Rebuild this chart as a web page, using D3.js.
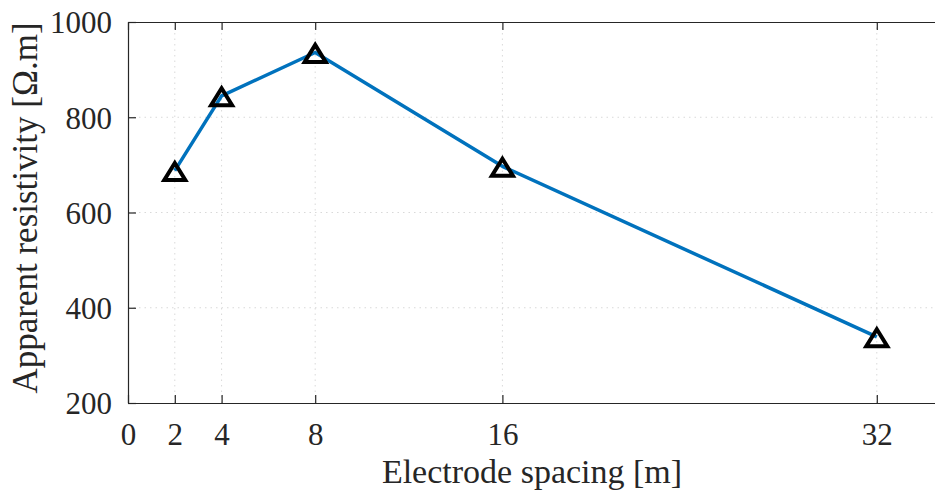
<!DOCTYPE html>
<html><head><meta charset="utf-8">
<script src="https://cdn.jsdelivr.net/npm/d3@7"></script>
<style>body{margin:0;background:#fff;}svg{display:block;}</style>
</head><body>
<svg id="c" width="935" height="493"></svg>
<script>
const spacing = [2, 4, 8, 16, 32];
const resistivity = [688, 845, 936, 697, 339];
const xTicks = [0, 2, 4, 8, 16, 32];
const yTicks = [200, 400, 600, 800, 1000];
const xLabel = "Electrode spacing [m]";
const yLabel = "Apparent resistivity [Ω.m]";

const svg = d3.select("#c");
const L = 128, T = 22, B = 403, R = 947;
const x = d3.scaleLinear().domain([0, 35]).range([L, R]);
const y = d3.scaleLinear().domain([200, 1000]).range([B, T]);
const font = "'Liberation Serif', 'Times New Roman', serif";
const axisCol = "#262626";

// grid
const g = svg.append("g");
g.selectAll("line.gx").data(xTicks.filter(d => d > 0)).join("line")
  .attr("x1", d => x(d)).attr("x2", d => x(d)).attr("y1", T).attr("y2", B)
  .attr("stroke", "#d9d9d9").attr("stroke-width", 1).attr("stroke-dasharray", "1.5,4");
g.selectAll("line.gy").data(yTicks.filter(d => d > 200 && d < 1000)).join("line")
  .attr("x1", L).attr("x2", R).attr("y1", d => y(d)).attr("y2", d => y(d))
  .attr("stroke", "#d9d9d9").attr("stroke-width", 1).attr("stroke-dasharray", "1.5,4");

// axes
const xAxisB = d3.axisBottom(x).tickValues(xTicks).tickSizeInner(-8).tickSizeOuter(0).tickPadding(20).tickFormat(d3.format("d"));
const xAxisT = d3.axisTop(x).tickValues(xTicks).tickSizeInner(-8).tickSizeOuter(0).tickFormat("");
const yAxisL = d3.axisLeft(y).tickValues(yTicks).tickSizeInner(-8).tickSizeOuter(0).tickPadding(16).tickFormat(d3.format("d"));

function style(sel) {
  sel.attr("font-family", null).attr("font-size", null);
  sel.select(".domain").attr("stroke", axisCol).attr("stroke-width", 1.2);
  sel.selectAll(".tick line").attr("stroke", axisCol).attr("stroke-width", 1.2);
  sel.selectAll(".tick text").attr("fill", axisCol).style("font-family", font).style("font-size", "31px");
}
svg.append("g").attr("transform", `translate(0,${B})`).call(xAxisB).call(style)
  .selectAll(".tick text").attr("dy", "0.71em");
svg.append("g").attr("transform", `translate(0,${T})`).call(xAxisT).call(style);
svg.append("g").attr("transform", `translate(${L},0)`).call(yAxisL).call(style)
  .selectAll(".tick text").attr("dy", "0.35em");

// line
svg.append("path").datum(spacing.map((d, i) => [d, resistivity[i]]))
  .attr("d", d3.line().x(d => x(d[0])).y(d => y(d[1])))
  .attr("fill", "none").attr("stroke", "#0072BD").attr("stroke-width", 3.5).attr("stroke-linejoin", "round");

// markers
svg.selectAll("path.m").data(spacing.map((d, i) => [d, resistivity[i]])).join("path")
  .attr("transform", d => `translate(${x(d[0])},${y(d[1])})`)
  .attr("d", "M0,-7.6L10.5,9.4L-10.5,9.4Z")
  .attr("fill", "none").attr("stroke", "#000").attr("stroke-width", 4).attr("stroke-linejoin", "miter");

// labels
svg.append("text").attr("x", 532).attr("y", 483).attr("text-anchor", "middle")
  .style("font-family", font).style("font-size", "34px").attr("fill", axisCol).text(xLabel);
svg.append("text").attr("transform", "translate(37,208) rotate(-90)").attr("text-anchor", "middle")
  .style("font-family", font).style("font-size", "35px").attr("fill", axisCol).text(yLabel);
</script>
</body></html>
